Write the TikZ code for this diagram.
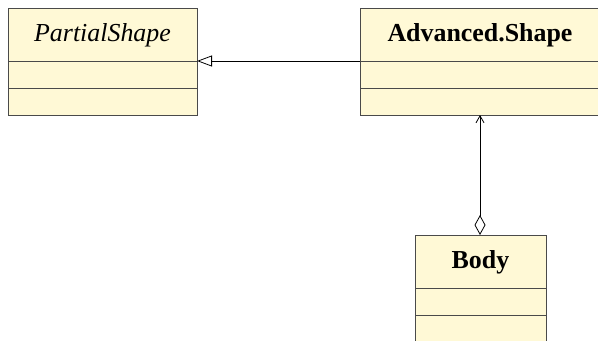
\documentclass[tikz,border=0pt]{standalone}
\usepackage{fontspec}
\setmainfont{Liberation Serif}
\usetikzlibrary{arrows.meta}
\definecolor{clsfill}{HTML}{FFF9D6}
\definecolor{clsline}{HTML}{4A4A4A}
\tikzset{
  x=1bp, y=1bp,
  clsbox/.style={draw=clsline, fill=clsfill, line width=0.9bp, inner sep=0pt, outer sep=0pt},
  clstitle/.style={inner sep=0pt, anchor=base, font=\fontsize{26}{30}\selectfont},
  divider/.style={draw=clsline, line width=0.9bp},
  conn/.style={draw=black, line width=0.8bp}
}
\begin{document}
\begin{tikzpicture}
\useasboundingbox (0,0) rectangle (598,340);
% PartialShape
\node[clsbox, minimum width=189bp, minimum height=107bp] (ps) at (102.5,278.5) {};
\node[clstitle] (pst) at (102.5,298.5) {\itshape PartialShape};
\draw[divider] (8,279) -- (197,279);
\draw[divider] (8,252) -- (197,252);
% Advanced.Shape
\node[clsbox, minimum width=240bp, minimum height=107bp] (adv) at (480,278.5) {};
\node[clstitle] (advt) at (480,298.5) {\bfseries Advanced.Shape};
\draw[divider] (360,279) -- (600,279);
\draw[divider] (360,252) -- (600,252);
% Body
\node[clsbox, minimum width=131bp, minimum height=107bp] (body) at (480.5,51.5) {};
\node[clstitle] (bodyt) at (480.5,72) {\bfseries Body};
\draw[divider] (415,52) -- (546,52);
\draw[divider] (415,25) -- (546,25);
% connectors
\draw[conn, -{Triangle[open, length=15bp, width=11bp]}] (adv.west |- 0,279) -- (ps.east |- 0,279);
\draw[conn, {Diamond[open, length=20bp, width=11bp]}-{Straight Barb[length=7bp, width=8bp]}] (body.north -| 480,0) -- (adv.south -| 480,0);
\end{tikzpicture}
\end{document}
